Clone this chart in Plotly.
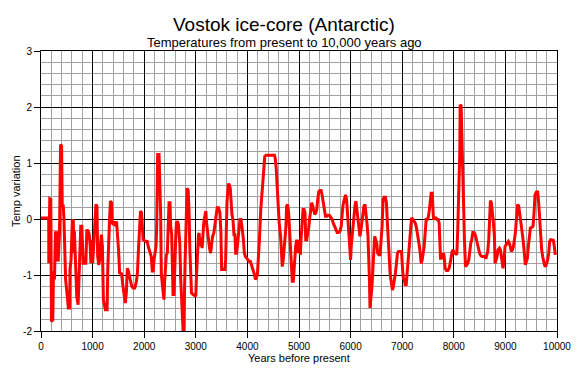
import plotly.graph_objects as go

# Years before present and temperature variation
years_a = [0, 150, 151, 170, 190, 203, 229, 242, 261, 281, 294, 314, 333, 346, 359, 379, 399, 412, 431, 444,
           464, 477, 510, 529, 556, 562, 582, 608, 627, 634, 647, 660, 673, 693, 719, 739, 758, 771, 791, 804,
           817, 869, 889, 915, 935, 954, 967, 987, 1000, 1020, 1033, 1052, 1065, 1085, 1098, 1118, 1137, 1150,
           1170, 1190, 1209, 1248, 1281, 1294, 1307, 1327, 1346, 1366, 1379, 1405, 1425, 1444, 1464, 1484, 1503,
           1523, 1562, 1588, 1608, 1634, 1654, 1673, 1693, 1719, 1739, 1758, 1784, 1817, 1850, 1869, 1889, 1909,
           1928, 1948, 1961, 1980, 2033, 2059, 2078, 2111, 2137, 2157, 2176, 2190, 2209, 2229, 2242, 2261, 2288]
temp_a = [0.02, 0.02, -0.79, 0.36, 0.35, -1.83, -1.80, -0.93, -1.08, -0.22, -0.76, -0.22, -0.76, -0.25, -0.25,
          1.33, 1.30, 0.23, 0.23, 0.02, -0.52, -1.08, -1.38, -1.59, -1.59, -0.90, -0.73, -0.01, -0.04, -0.61,
          -0.22, -0.61, -1.20, -1.38, -1.53, -0.85, -0.49, -0.13, -0.13, -0.49, -0.79, -0.79, -0.19, -0.22,
          -0.28, -0.49, -0.79, -0.37, -0.79, -0.49, -0.19, 0.11, 0.26, 0.23, -0.67, -0.82, -0.73, -0.49, -0.28,
          -0.49, -1.44, -1.62, -1.62, -0.90, -0.40, -0.04, 0.32, 0.29, -0.07, -0.10, -0.04, -0.13, -0.04, -0.25,
          -0.55, -0.96, -0.98, -1.20, -1.32, -1.50, -1.32, -0.88, -0.93, -1.02, -1.14, -1.20, -1.23, -1.23,
          -1.11, -0.96, -0.55, -0.19, 0.14, 0.11, -0.07, -0.37, -0.40, -0.40, -0.49, -0.58, -0.67, -0.93, -0.93,
          -0.73, -0.61, -0.49, -0.13, 1.15, 1.15]

years_b = [2319, 2332, 2351, 2364, 2383, 2396, 2416, 2429, 2448, 2468, 2481, 2500, 2513, 2533, 2546, 2559, 2578,
           2591, 2611, 2624, 2643, 2663, 2676, 2689, 2708, 2727, 2740, 2753, 2766, 2779, 2792, 2805, 2818, 2831,
           2851, 2870, 2883, 2903, 2916, 2948, 2981, 3000, 3013, 3032, 3052, 3065, 3078, 3091, 3110, 3123, 3130,
           3149, 3162, 3182, 3195, 3208, 3227, 3247, 3266, 3286, 3305, 3325, 3350, 3370, 3389, 3415, 3441, 3467,
           3487, 3500, 3532, 3565, 3578, 3591, 3604, 3630, 3649, 3668, 3681, 3701, 3720, 3740, 3759, 3772, 3792,
           3805, 3824, 3837, 3857, 3876, 3889, 3902, 3922, 3941, 3961, 3986, 4012, 4038, 4058, 4078, 4097, 4116,
           4136, 4155, 4175, 4194, 4214, 4233, 4259, 4279, 4298, 4317, 4337, 4363, 4415, 4473, 4525, 4538, 4558,
           4577, 4597, 4616]
temp_b = [0.08, -0.99, -1.14, -1.29, -1.44, -1.11, -0.73, -0.64, -0.61, -0.19, 0.29, 0.29, -0.13, -0.28, -0.79,
          -1.35, -1.35, -0.79, -0.31, -0.07, -0.04, -0.10, -0.25, -0.43, -1.08, -1.53, -1.53, -1.98, -1.98, -1.08,
          -0.79, -0.34, 0.05, 0.55, 0.52, 0.11, -0.49, -0.96, -1.32, -1.35, -1.38, -1.38, -1.02, -0.61, -0.28,
          -0.25, -0.49, -0.34, -0.37, -0.52, -0.34, -0.13, -0.01, 0.11, 0.14, -0.07, -0.22, -0.43, -0.52, -0.61,
          -0.49, -0.31, -0.25, -0.13, 0.05, 0.20, 0.20, 0.11, -0.25, -0.90, -0.90, -0.90, -0.73, -0.25, 0.29,
          0.63, 0.61, 0.55, 0.35, 0.08, -0.01, -0.28, -0.28, -0.61, -0.61, -0.43, -0.31, -0.19, -0.01, -0.01,
          -0.07, -0.19, -0.37, -0.61, -0.67, -0.70, -0.73, -0.76, -0.76, -0.82, -0.85, -0.90, -0.99, -1.08, -1.05,
          -0.99, -0.73, -0.37, 0.17, 0.38, 0.58, 0.85, 1.12, 1.14, 1.14, 1.14, 1.14, 1.09, 0.91, 0.58, 0.23, -0.07]

years_c = [4643, 4656, 4676, 4695, 4708, 4727, 4747, 4760, 4779, 4799, 4818, 4838, 4857, 4870, 4890, 4909, 4922,
           4935, 4955, 4974, 4987, 5013, 5026, 5039, 5052, 5065, 5078, 5097, 5117, 5130, 5149, 5169, 5188, 5208,
           5227, 5247, 5266, 5286, 5305, 5325, 5344, 5363, 5383, 5402, 5428, 5448, 5467, 5487, 5513, 5539, 5565,
           5597, 5623, 5643, 5662, 5688, 5714, 5740, 5766, 5792, 5818, 5831, 5850, 5870, 5883, 5902, 5922, 5935,
           5954, 5974, 5987, 6000, 6012, 6032, 6051, 6064, 6084, 6103, 6123, 6142, 6162, 6181, 6201, 6220, 6240,
           6259, 6279, 6298, 6317, 6337, 6350, 6363, 6376, 6395, 6415, 6434, 6447, 6467, 6486, 6506, 6525, 6545,
           6571, 6590, 6610, 6629, 6648, 6674, 6694, 6713, 6726, 6746, 6765, 6785, 6811, 6830, 6850, 6869, 6889,
           6908, 6928, 6953]
temp_c = [-0.31, -0.55, -0.85, -0.73, -0.61, -0.37, -0.13, 0.23, 0.26, 0.11, -0.19, -0.49, -0.79, -1.11, -1.11,
          -0.79, -0.61, -0.49, -0.37, -0.49, -0.61, -0.37, -0.64, -0.37, -0.13, 0.11, 0.17, 0.17, 0.11, -0.37,
          -0.37, -0.25, -0.16, 0.02, 0.17, 0.29, 0.23, 0.11, 0.08, 0.11, 0.17, 0.35, 0.49, 0.51, 0.51, 0.43, 0.29,
          0.14, 0.05, 0.05, 0.07, 0.06, 0.02, -0.01, -0.07, -0.12, -0.19, -0.24, -0.24, -0.22, -0.13, 0.08, 0.23,
          0.32, 0.40, 0.43, 0.35, 0.17, -0.13, -0.31, -0.49, -0.73, -0.49, -0.25, -0.07, 0.11, 0.23, 0.32, 0.17,
          -0.04, -0.19, -0.31, -0.19, -0.01, 0.11, 0.23, 0.26, 0.14, -0.07, -0.31, -0.55, -1.02, -1.59, -1.44,
          -1.20, -0.85, -0.67, -0.31, -0.37, -0.43, -0.61, -0.64, -0.64, -0.43, -0.13, 0.35, 0.39, 0.39, 0.29,
          -0.07, -0.37, -0.67, -0.96, -1.11, -1.27, -1.20, -1.11, -0.96, -0.79, -0.61, -0.58, -0.58]

years_d = [6987, 7000, 7020, 7039, 7058, 7078, 7097, 7110, 7123, 7142, 7161, 7181, 7200, 7226, 7252, 7271, 7290,
           7310, 7329, 7349, 7368, 7387, 7407, 7426, 7445, 7465, 7484, 7503, 7523, 7542, 7561, 7581, 7594, 7607,
           7626, 7652, 7678, 7697, 7716, 7729, 7742, 7761, 7781, 7800, 7813, 7832, 7858, 7884, 7910, 7929, 7948,
           7968, 7987, 8006, 8032, 8058, 8077, 8097, 8116, 8123, 8142, 8155, 8168, 8181, 8194, 8206, 8226, 8252,
           8271, 8290, 8310, 8329, 8348, 8368, 8387, 8406, 8426, 8445, 8464, 8484, 8503, 8522, 8548, 8574, 8600,
           8619, 8639, 8658, 8677, 8697, 8710, 8729, 8748, 8768, 8787, 8800, 8819, 8839, 8858, 8884, 8903, 8922,
           8942, 8955, 8974, 8993, 9013, 9032, 9058, 9077, 9097, 9116, 9135, 9155, 9174, 9193, 9213, 9226, 9238,
           9258, 9277, 9297, 9316, 9335, 9355, 9374, 9387, 9406, 9426, 9445, 9464, 9484, 9509, 9535, 9555, 9574,
           9600, 9626, 9645, 9664, 9684, 9703, 9722, 9742, 9761, 9780, 9800, 9819, 9839, 9858, 9877, 9903, 9929,
           9948, 9967]
temp_d = [-0.58, -0.79, -1.05, -1.08, -1.17, -1.17, -0.93, -0.90, -0.61, -0.43, -0.13, 0.02, 0.00, -0.04, -0.07,
          -0.13, -0.22, -0.34, -0.46, -0.61, -0.79, -0.73, -0.64, -0.49, -0.25, -0.01, -0.01, 0.02, 0.14, 0.29,
          0.46, 0.46, 0.29, -0.01, 0.02, 0.02, -0.01, -0.01, -0.07, -0.31, -0.70, -0.70, -0.67, -0.61, -0.67,
          -0.88, -0.92, -0.92, -0.88, -0.79, -0.67, -0.58, -0.55, -0.61, -0.61, -0.64, -0.19, 0.35, 1.18, 2.04,
          2.02, 1.54, 1.18, 0.70, 0.11, -0.37, -0.85, -0.82, -0.79, -0.73, -0.55, -0.43, -0.37, -0.24, -0.24,
          -0.26, -0.32, -0.40, -0.49, -0.58, -0.62, -0.65, -0.67, -0.67, -0.67, -0.71, -0.64, -0.58, -0.37, 0.02,
          0.33, 0.29, 0.14, -0.07, -0.31, -0.79, -0.73, -0.67, -0.55, -0.52, -0.55, -0.67, -0.73, -0.88, -0.73,
          -0.49, -0.46, -0.43, -0.40, -0.43, -0.52, -0.58, -0.55, -0.49, -0.37, -0.25, -0.01, 0.14, 0.26, 0.23,
          0.11, -0.07, -0.19, -0.31, -0.49, -0.67, -0.82, -0.76, -0.70, -0.49, -0.31, -0.16, -0.15, -0.13, 0.11,
          0.43, 0.48, 0.48, 0.29, -0.07, -0.37, -0.55, -0.67, -0.79, -0.83, -0.85, -0.79, -0.73, -0.61, -0.40,
          -0.37, -0.37, -0.38, -0.49, -0.64]

years = years_a + years_b + years_c + years_d
temps = temp_a + temp_b + temp_c + temp_d

title_text = "Vostok ice-core (Antarctic)"
subtitle_text = "Temperatures from present to 10,000 years ago"
x_title = "Years before present"
y_title = "Temp variation"
x_ticks = [0, 1000, 2000, 3000, 4000, 5000, 6000, 7000, 8000, 9000, 10000]
y_ticks = [-2, -1, 0, 1, 2, 3]

FONT = "Liberation Sans, Arial, sans-serif"

fig = go.Figure()
fig.add_trace(go.Scatter(x=years, y=temps, mode="lines",
                         line=dict(color="#ff0000", width=3), hoverinfo="skip"))

axis_common = dict(showline=True, linecolor="#000000", linewidth=1, mirror=True,
                   showgrid=True, gridcolor="#000000", gridwidth=1, zeroline=False,
                   ticks="outside", ticklen=6, tickcolor="#000000", tickwidth=1,
                   automargin=False,
                   tickfont=dict(family=FONT, size=10, color="#000000"))

fig.update_layout(
    width=576, height=368, autosize=False,
    margin=dict(l=41, r=19, t=51, b=37, pad=0, autoexpand=False),
    paper_bgcolor="#ffffff", plot_bgcolor="#ffffff",
    showlegend=False,
    font=dict(family=FONT, color="#000000"),
    xaxis=dict(range=[0, 10000], tickvals=x_ticks, ticktext=[str(v) for v in x_ticks],
               minor=dict(dtick=200, showgrid=True, gridcolor="#a0a0a0", gridwidth=1, ticks=""),
               **axis_common),
    yaxis=dict(range=[-2, 3], tickvals=y_ticks, ticktext=[str(v) for v in y_ticks],
               minor=dict(dtick=0.2, showgrid=True, gridcolor="#a0a0a0", gridwidth=1, ticks=""),
               **axis_common),
    annotations=[
        dict(text=title_text, xref="paper", yref="paper", x=0.471, y=1.093,
             xanchor="center", yanchor="middle", showarrow=False,
             font=dict(family=FONT, size=19, color="#000000")),
        dict(text=subtitle_text, xref="paper", yref="paper", x=0.471, y=1.032,
             xanchor="center", yanchor="middle", showarrow=False,
             font=dict(family=FONT, size=13, color="#000000")),
        dict(text=x_title, xref="paper", yref="paper", x=0.5, y=0,
             xanchor="center", yanchor="top", yshift=-19, showarrow=False,
             font=dict(family=FONT, size=11, color="#000000")),
        dict(text=y_title, xref="paper", yref="paper", x=-0.0484, y=0.5,
             xanchor="center", yanchor="middle", textangle=-90, showarrow=False,
             font=dict(family=FONT, size=11, color="#000000")),
    ],
)

# Remove the browser's default 8px body margin so the 576x368 figure fills the window exactly.
fig.write_html("out.html",
               config={"displayModeBar": False, "responsive": False},
               post_script="document.body.style.margin='0';document.body.style.overflow='hidden';")
